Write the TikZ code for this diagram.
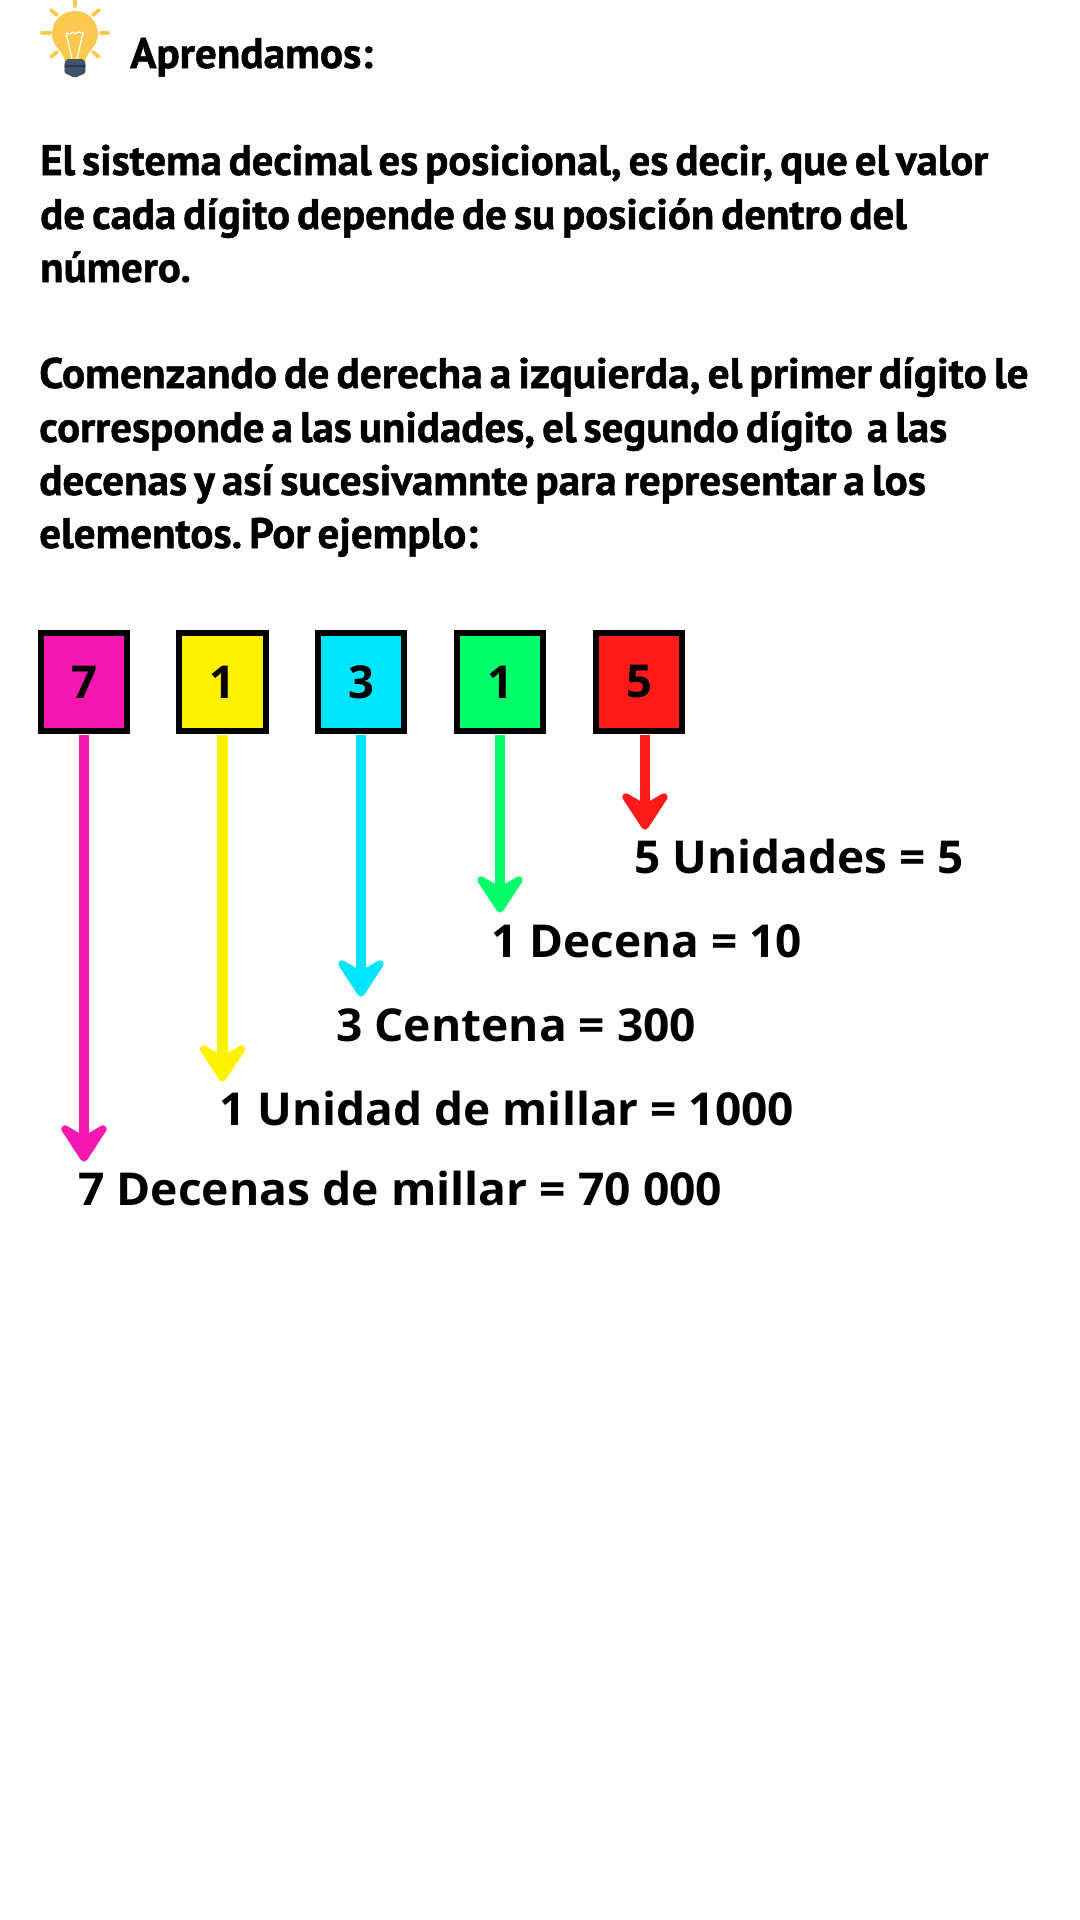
\documentclass[tikz,border=0pt]{standalone}
\usepackage{fontspec}
\usepackage{graphicx}
\setmainfont{PT Sans}[BoldFont=PT Sans Bold,BoldFeatures={FakeBold=1.2,WordSpace=0.65}]
\newfontfamily\labfont{Open Sans}[BoldFont=Open Sans Bold]
\newcommand{\fitw}[2]{\resizebox{#1}{\height}{#2}}
\newcommand{\headat}[2]{\filldraw[#2,line width=5.5pt,line join=round] ([shift={(0,-4)}]#1) -- ([shift={(19,-33)}]#1) -- ([shift={(0,-22)}]#1) -- ([shift={(-19,-33)}]#1) -- cycle;}
\definecolor{cmag}{HTML}{F518B0}
\definecolor{cyel}{HTML}{FFF200}
\definecolor{ccya}{HTML}{00E5FF}
\definecolor{cgre}{HTML}{00FF6A}
\definecolor{cred}{HTML}{FF1A1A}
\definecolor{cbulb}{HTML}{FDC850}
\definecolor{cbase}{HTML}{3F5368}
\tikzset{
 head/.style={anchor=base west,inner sep=0pt,font=\bfseries\frenchspacing\fontsize{32}{32}\selectfont,text=black},
 lab/.style={anchor=base west,inner sep=0pt,font=\labfont\bfseries\fontsize{34}{34}\selectfont,text=black},
 digbox/.style={draw=black,line width=4.4pt,minimum width=65pt,minimum height=74pt,inner sep=0pt,outer sep=0pt,font=\labfont\bfseries\fontsize{34}{34}\selectfont},
 arr/.style={line width=8pt,shorten <=2.8pt,shorten >=10pt},
 ray/.style={cbulb,line width=2.8pt,line cap=round}
}
\begin{document}
\begin{tikzpicture}[x=0.75pt,y=-0.75pt]
\useasboundingbox (0,0) rectangle (1080,1920);
% bulb
\foreach \a/\b/\c/\d in {75/0/75/6,51/10/57/15,99/10/93/15,42/33/50/33,101/33/108/33,51/57/57/52,99/57/93/52}
  \draw[ray] (\a,\b) -- (\c,\d);
\fill[cbulb] (75,11) .. controls (88,11) and (98,21) .. (98,34) .. controls (98,46) and (88,50) .. (85,61) -- (65,61) .. controls (62,50) and (52,46) .. (52,34) .. controls (52,21) and (62,11) .. (75,11) -- cycle;
\draw[white,line width=0.9pt,line join=round] (72,59) -- (66,33) -- (70,34) -- (73,32) -- (75,34) -- (78,32) -- (83,33) -- (77,59);
\fill[cbase,rounded corners=2pt] (66,59) -- (84,59) -- (86,65) -- (85,69) -- (86,73) -- (81,75) -- (75,78) -- (69,75) -- (64,73) -- (65,69) -- (64,65) -- cycle;
\draw[cbase!70!black,line width=1pt] (65,66) -- (85,66);
% text
\node[head] (t0) at (130,68) {\fitw{182pt}{Aprendamos:}};
\node[head] (t1) at (40,175) {\fitw{711pt}{El sistema decimal es posicional, es decir, que el valor}};
\node[head] (t2) at (40,229) {\fitw{650pt}{de cada dígito depende de su posición dentro del}};
\node[head] (t3) at (40,282) {\fitw{113pt}{número.}};
\node[head] (t4) at (39,388) {\fitw{742pt}{Comenzando de derecha a izquierda, el primer dígito le}};
\node[head] (t5) at (39,442) {\fitw{681pt}{corresponde a las unidades, el segundo dígito\ \ a las}};
\node[head] (t6) at (39,495) {\fitw{665pt}{decenas y así sucesivamnte para representar a los}};
\node[head] (t7) at (39,548) {\fitw{329pt}{elementos. Por ejemplo:}};
% boxes
\node[digbox,fill=cmag] (b1) at (84,682) {7};
\node[digbox,fill=cyel] (b2) at (222.5,682) {1};
\node[digbox,fill=ccya] (b3) at (361,682) {3};
\node[digbox,fill=cgre] (b4) at (500,682) {1};
\node[digbox,fill=cred] (b5) at (639,682) {5};
% arrow ends
\coordinate (e1) at (84,1162);
\coordinate (e2) at (222.5,1082);
\coordinate (e3) at (361,997);
\coordinate (e4) at (500,913);
\coordinate (e5) at (645,830);
\draw[arr,cmag] (b1.south) -- (e1);
\draw[arr,cyel] (b2.south) -- (e2);
\draw[arr,ccya] (b3.south) -- (e3);
\draw[arr,cgre] (b4.south) -- (e4);
\draw[arr,cred] (b5.south -| e5) -- (e5);
\headat{e1}{cmag}
\headat{e2}{cyel}
\headat{e3}{ccya}
\headat{e4}{cgre}
\headat{e5}{cred}
% labels
\node[lab] (l5) at (634,873) {\fitw{247pt}{5 Unidades = 5}};
\node[lab] (l4) at (491,957) {\fitw{233pt}{1 Decena = 10}};
\node[lab] (l3) at (336,1041) {\fitw{270pt}{3 Centena = 300}};
\node[lab] (l2) at (219,1125) {\fitw{431pt}{1 Unidad de millar = 1000}};
\node[lab] (l1) at (78,1205) {\fitw{483pt}{7 Decenas de millar = 70 000}};
\end{tikzpicture}
\end{document}
